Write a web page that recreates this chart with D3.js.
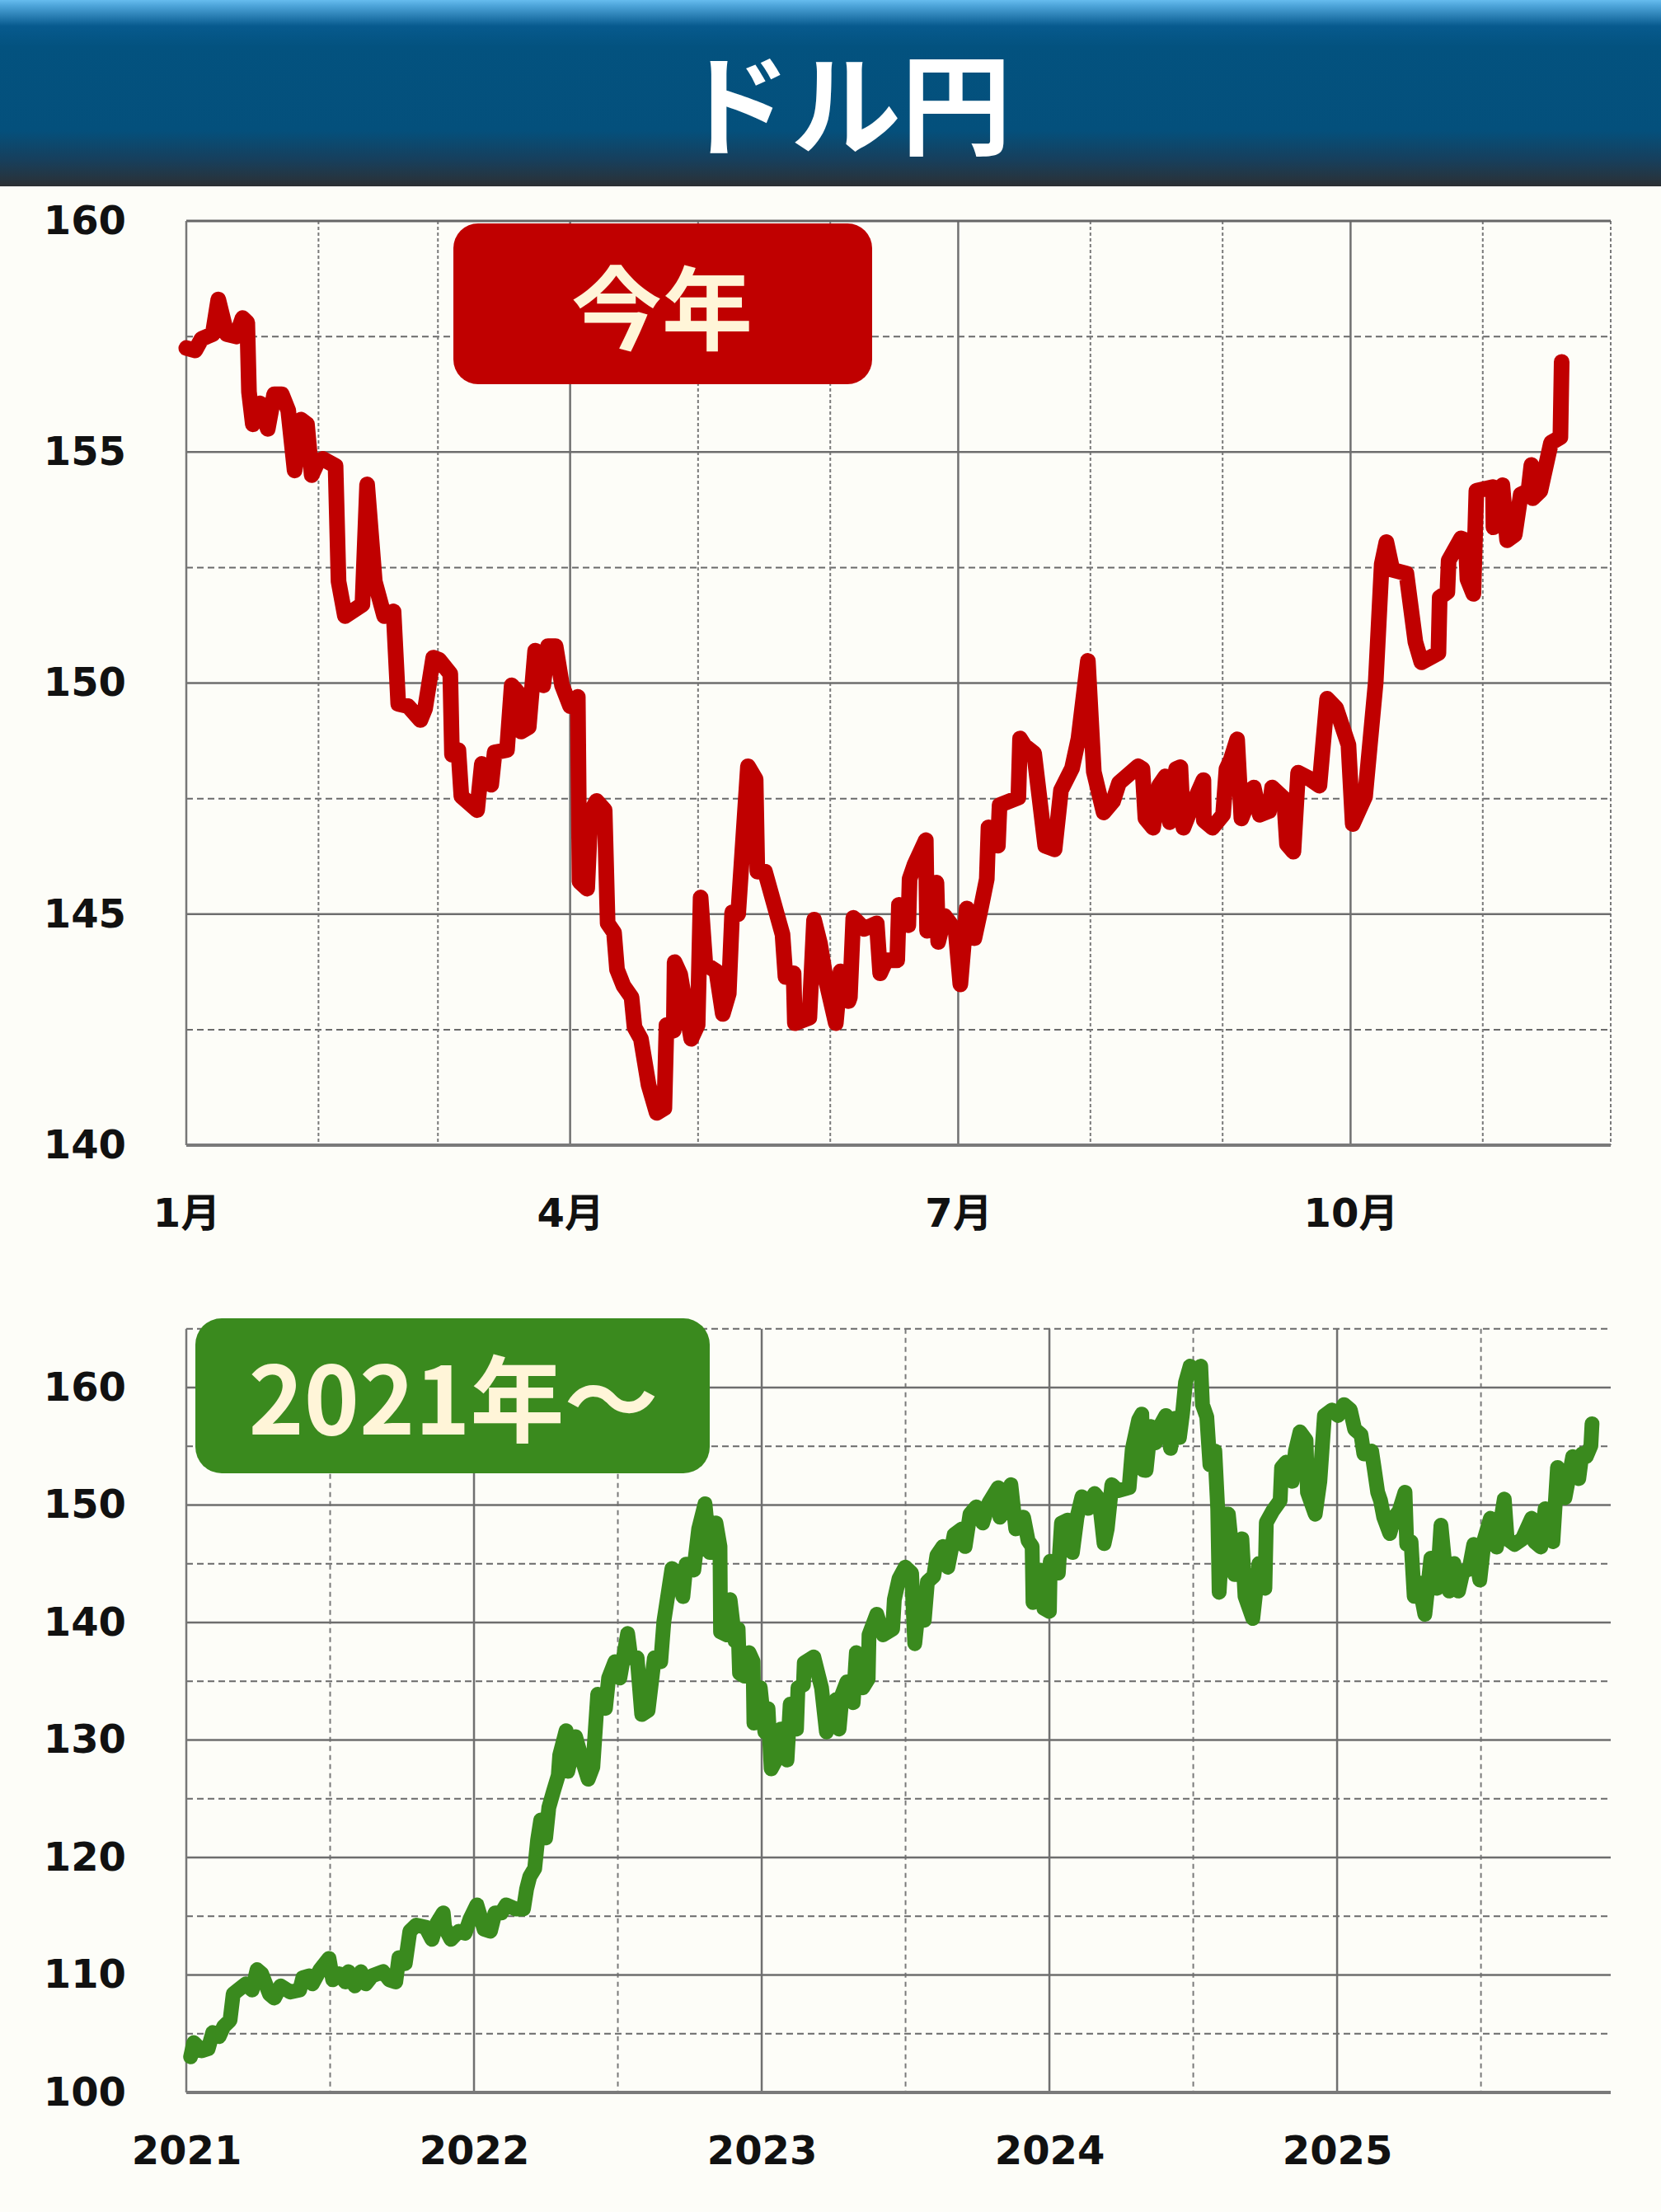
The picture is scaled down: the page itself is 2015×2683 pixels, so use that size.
<!DOCTYPE html>
<html>
<head>
<meta charset="utf-8">
<script src="https://cdn.jsdelivr.net/npm/d3@7"></script>
<style>
  html, body { margin: 0; padding: 0; background: #FDFDF8; }
  svg { display: block; }
</style>
</head>
<body>
<script>
// ---------------- DATA ----------------
const titleText = "ドル円";
const badgeTop = "今年";
const badgeBottom = "2021年～";

// Top chart: days since 2025-01-01, and USD/JPY rate
const ytdDay = [0,2.1,3.6,6.2,7.5,9.5,11.7,13.2,14.3,14.7,15.6,17.3,19.1,20.6,22.4,23.9,25.4,26.9,28.3,29.4,30.9,32.0,35.0,35.7,37.2,41.3,42.4,44.2,46.4,48.6,49.7,52.0,54.9,56.0,57.9,59.3,61.9,62.3,63.8,64.5,68.2,69.3,71.5,72.3,75.2,76.3,78.2,78.5,80.3,81.8,83.7,84.8,86.6,88.1,90.0,91.8,92.2,94.0,94.8,96.2,98.1,98.8,100.3,101.0,102.5,104.4,105.1,106.6,108.4,110.3,112.1,112.6,114.3,114.5,115.8,118.4,119.9,120.6,121.7,124.3,125.8,127.2,128.0,129.4,131.7,133.5,133.9,135.7,139.8,140.5,142.4,142.7,146.1,147.2,148.6,150.1,152.3,153.4,155.3,155.6,156.4,159.0,161.9,162.7,164.1,166.7,167.1,169.3,169.6,170.8,173.4,173.7,175.9,176.3,177.8,180.4,181.5,183.0,184.8,186.3,187.7,188.1,190.3,190.7,192.9,195.1,195.5,196.6,198.8,201.4,203.6,205.1,207.7,209.2,211.4,212.8,215.1,217.3,218.7,223.2,224.2,224.9,226.7,228.1,229.6,230.6,232.1,233.1,233.8,236.0,238.5,238.6,240.6,243.1,243.9,244.9,246.4,247.4,250.3,251.7,253.9,254.6,257.4,258.1,259.6,260.7,263.2,265.7,267.5,269.6,272.5,273.5,276.4,278.9,280.3,281.4,282.8,286.1,288.2,289.6,293.6,293.9,295.7,296.0,298.9,300.0,300.4,301.8,302.5,306.4,306.5,308.6,309.7,311.5,312.9,314.7,315.4,315.7,317.5,320.0,322.2,322.5];
const ytdRate = [157.25,157.2,157.45,157.55,158.3,157.55,157.5,157.9,157.8,156.3,155.6,156.05,155.5,156.25,156.25,155.9,154.6,155.7,155.6,154.5,154.8,154.85,154.7,152.2,151.45,151.7,154.3,152.2,151.45,151.55,149.55,149.5,149.2,149.45,150.55,150.5,150.2,148.45,148.55,147.55,147.25,148.25,147.8,148.5,148.55,149.95,149.75,148.95,149.05,150.7,149.95,150.8,150.8,149.95,149.5,149.7,145.7,145.55,147.2,147.45,147.25,144.8,144.6,143.8,143.45,143.2,142.55,142.3,141.3,140.7,140.8,142.6,142.48,143.96,143.7,142.3,142.6,145.36,143.92,143.76,142.84,143.28,145.04,145.0,148.2,147.92,145.92,145.92,144.56,143.64,143.72,142.64,142.76,144.88,144.36,143.52,142.64,143.76,143.12,143.2,144.92,144.68,144.8,143.72,144.0,144.0,145.2,144.76,145.76,146.08,146.6,144.64,145.68,144.4,144.96,144.64,143.48,145.12,144.48,145.12,145.76,146.88,146.48,147.36,147.44,147.52,148.8,148.64,148.48,146.48,146.4,147.68,148.16,148.8,150.48,148.08,147.2,147.44,147.84,148.2,148.14,147.07,146.87,147.78,147.98,146.99,148.14,148.18,146.87,147.38,147.9,147.03,146.87,147.15,148.14,148.34,148.78,147.07,147.74,147.15,147.23,147.74,147.5,146.51,146.35,148.06,147.94,147.78,149.66,149.46,148.66,146.95,147.54,150.02,152.57,153.05,152.45,152.37,150.89,150.45,150.65,151.85,151.97,152.65,153.13,153.09,152.25,151.93,154.16,154.24,153.37,154.28,153.09,153.21,154.08,154.16,154.72,154.0,154.16,155.2,155.32,156.95];

// Bottom chart: decimal year, and USD/JPY rate
const sinceYear = [2021.015,2021.026,2021.054,2021.076,2021.092,2021.114,2021.130,2021.152,2021.163,2021.180,2021.207,2021.229,2021.246,2021.262,2021.289,2021.306,2021.328,2021.361,2021.394,2021.405,2021.427,2021.438,2021.465,2021.496,2021.509,2021.531,2021.553,2021.564,2021.586,2021.607,2021.624,2021.646,2021.684,2021.706,2021.728,2021.739,2021.761,2021.777,2021.799,2021.832,2021.854,2021.871,2021.893,2021.898,2021.920,2021.947,2021.969,2021.986,2022.010,2022.035,2022.057,2022.073,2022.095,2022.112,2022.145,2022.172,2022.183,2022.194,2022.211,2022.221,2022.232,2022.249,2022.260,2022.276,2022.293,2022.298,2022.320,2022.326,2022.353,2022.375,2022.397,2022.413,2022.430,2022.457,2022.468,2022.490,2022.507,2022.534,2022.545,2022.567,2022.583,2022.605,2022.627,2022.649,2022.660,2022.688,2022.709,2022.726,2022.737,2022.764,2022.781,2022.803,2022.819,2022.841,2022.855,2022.857,2022.879,2022.890,2022.907,2022.918,2022.923,2022.940,2022.956,2022.970,2022.973,2022.995,2023.011,2023.022,2023.033,2023.055,2023.066,2023.088,2023.099,2023.121,2023.126,2023.145,2023.148,2023.181,2023.208,2023.225,2023.258,2023.269,2023.280,2023.296,2023.318,2023.329,2023.351,2023.370,2023.373,2023.400,2023.422,2023.455,2023.461,2023.477,2023.499,2023.521,2023.532,2023.548,2023.565,2023.576,2023.598,2023.609,2023.630,2023.647,2023.669,2023.696,2023.707,2023.724,2023.746,2023.768,2023.790,2023.822,2023.828,2023.850,2023.866,2023.883,2023.910,2023.926,2023.940,2023.943,2023.970,2023.981,2024.000,2024.003,2024.031,2024.042,2024.064,2024.080,2024.096,2024.113,2024.135,2024.157,2024.173,2024.190,2024.201,2024.217,2024.239,2024.277,2024.288,2024.310,2024.321,2024.326,2024.336,2024.352,2024.368,2024.384,2024.405,2024.421,2024.437,2024.452,2024.463,2024.473,2024.489,2024.511,2024.526,2024.532,2024.547,2024.558,2024.575,2024.585,2024.590,2024.606,2024.622,2024.643,2024.669,2024.680,2024.707,2024.728,2024.749,2024.754,2024.775,2024.802,2024.807,2024.823,2024.844,2024.855,2024.871,2024.892,2024.897,2024.924,2024.940,2024.956,2024.982,2025.003,2025.024,2025.046,2025.061,2025.083,2025.093,2025.120,2025.130,2025.141,2025.151,2025.162,2025.183,2025.199,2025.215,2025.236,2025.242,2025.257,2025.268,2025.284,2025.305,2025.326,2025.347,2025.361,2025.374,2025.390,2025.406,2025.422,2025.437,2025.459,2025.475,2025.496,2025.512,2025.533,2025.554,2025.581,2025.591,2025.617,2025.644,2025.676,2025.686,2025.708,2025.723,2025.750,2025.766,2025.792,2025.819,2025.840,2025.851,2025.866,2025.882,2025.886];
const sinceRate = [103.03,104.24,103.55,103.72,105.1,104.76,105.62,106.14,108.38,108.72,109.24,108.72,110.45,110.1,108.38,108.03,109.07,108.55,108.72,109.76,109.93,109.24,110.45,111.41,109.59,110.1,109.41,110.28,109.07,110.28,109.24,109.93,110.28,109.59,109.41,111.48,110.97,113.72,114.24,114.07,113.03,114.41,115.28,114.07,113.03,113.72,113.55,114.76,115.97,113.9,113.72,115.28,115.28,115.97,115.62,115.62,117.34,118.38,119.07,121.48,123.2,121.66,124.24,125.62,127.0,128.72,130.79,127.34,130.28,128.38,126.66,127.69,133.9,132.69,135.28,136.66,135.28,139.07,137.0,137.0,132.17,132.52,137.0,136.66,140.1,144.59,144.21,142.21,144.96,144.46,147.97,150.1,145.96,148.47,146.47,139.2,138.95,141.95,138.45,139.45,135.69,135.44,137.44,136.69,131.43,134.44,130.68,132.68,127.54,128.55,130.93,128.3,133.06,130.93,134.44,134.69,136.57,137.07,134.44,130.68,133.43,130.93,133.93,134.94,133.18,137.44,134.44,135.19,138.95,140.7,138.95,139.45,141.95,143.71,144.71,144.21,138.2,141.95,140.2,143.46,143.96,145.71,146.47,144.71,147.47,147.97,146.47,149.22,149.85,148.47,150.2,151.48,148.97,149.72,151.73,147.97,148.97,146.97,146.47,141.7,144.46,141.2,140.95,145.21,144.21,148.47,148.72,145.96,148.97,150.7,149.72,150.98,150.48,146.72,147.97,151.73,151.23,151.48,154.74,157.24,157.74,152.98,152.95,156.69,155.29,156.69,157.62,154.82,157.39,155.75,157.85,160.42,161.82,161.35,161.82,158.55,157.5,153.42,154.59,149.69,142.57,149.22,149.22,144.08,147.12,142.22,140.35,145.02,142.92,148.52,149.45,150.38,153.19,153.65,152.02,154.59,156.22,155.52,151.09,149.22,152.02,157.62,158.09,157.62,158.55,158.09,156.45,155.99,154.35,154.59,152.95,151.09,150.38,148.98,147.58,148.98,149.45,151.09,146.65,146.88,142.22,143.38,140.7,145.48,142.92,148.28,145.02,142.68,145.02,142.68,144.32,144.55,146.65,143.62,147.12,148.87,146.42,150.5,147.12,146.65,147.12,148.87,146.88,146.42,149.69,146.88,153.19,150.62,154.12,152.25,154.35,154.12,155.05,156.92];

// Tick labels
const topYTicks = [140, 145, 150, 155, 160];
const topMonthTicks = ["2025-01-01", "2025-04-01", "2025-07-01", "2025-10-01"];
const topMonthLabels = ["1月", "4月", "7月", "10月"];
const bottomYTicks = [100, 110, 120, 130, 140, 150, 160];
const bottomYearTicks = [2021, 2022, 2023, 2024, 2025];
const bottomYearLabels = ["2021", "2022", "2023", "2024", "2025"];

// ---------------- DRAW ----------------
const W = 2015, H = 2683;
const svg = d3.select("body").append("svg").attr("width", W).attr("height", H);
svg.append("rect").attr("width", W).attr("height", H).attr("fill", "#FDFDF8");

const defs = svg.append("defs");
const hg = defs.append("linearGradient").attr("id", "hdr").attr("x1", 0).attr("y1", 0).attr("x2", 0).attr("y2", 1);
[[0, "#66BCEE"], [0.03, "#4EA5DA"], [0.14, "#075A8E"], [0.25, "#03527F"], [0.7, "#04507C"], [0.86, "#173F5C"], [1, "#2C3034"]]
  .forEach(([o, c]) => hg.append("stop").attr("offset", o).attr("stop-color", c));

// header
svg.append("rect").attr("x", 0).attr("y", 0).attr("width", W).attr("height", 226).attr("fill", "url(#hdr)");
svg.append("text").attr("x", 1026).attr("y", 120).attr("text-anchor", "middle").attr("dominant-baseline", "central")
  .attr("font-family", "'Noto Sans CJK JP', sans-serif").attr("font-weight", 700).attr("font-size", 134)
  .attr("fill", "#FFFFFF").text(titleText);

const labelFont = "'DejaVu Sans', 'Noto Sans CJK JP', sans-serif";
const L = 226, R = 1954;

// ----- Top chart -----
const tTop = 268, tBot = 1389;
const parseUTC = d3.utcParse("%Y-%m-%d");
const xT = d3.scaleUtc().domain([parseUTC("2025-01-01"), parseUTC("2025-12-01")]).range([L, R]);
const yT = d3.scaleLinear().domain([140, 160]).range([tBot, tTop]);
const gT = svg.append("g");

d3.range(142.5, 160, 5).forEach(v => {
  gT.append("line").attr("x1", L).attr("x2", R).attr("y1", yT(v)).attr("y2", yT(v))
    .attr("stroke", "#6a6a6a").attr("stroke-width", 2).attr("stroke-dasharray", "8,5");
});
d3.utcMonth.range(parseUTC("2025-02-01"), parseUTC("2025-12-02")).forEach(d => {
  const m = d.getUTCMonth();
  const solid = (m % 3 === 0);
  gT.append("line").attr("x1", xT(d)).attr("x2", xT(d)).attr("y1", tTop).attr("y2", tBot)
    .attr("stroke", solid ? "#707070" : "#7a7a7a").attr("stroke-width", solid ? 2.5 : 2)
    .attr("stroke-dasharray", solid ? null : "4,3");
});
[145, 150, 155].forEach(v => {
  gT.append("line").attr("x1", L).attr("x2", R).attr("y1", yT(v)).attr("y2", yT(v))
    .attr("stroke", "#6e6e6e").attr("stroke-width", 2.5);
});
gT.append("line").attr("x1", L).attr("x2", R).attr("y1", tTop).attr("y2", tTop).attr("stroke", "#666").attr("stroke-width", 3);
gT.append("line").attr("x1", L).attr("x2", L).attr("y1", tTop).attr("y2", tBot).attr("stroke", "#777").attr("stroke-width", 2.5);
gT.append("line").attr("x1", L).attr("x2", R).attr("y1", tBot).attr("y2", tBot).attr("stroke", "#7a7a7a").attr("stroke-width", 4);

const axT = d3.axisLeft(yT).tickValues(topYTicks).tickSize(0).tickPadding(L - 153).tickFormat(d3.format("d"));
const axTg = svg.append("g").attr("transform", `translate(${L},0)`).call(axT);
axTg.select(".domain").remove();
axTg.selectAll("text").attr("font-family", labelFont).attr("font-weight", 700).attr("font-size", 48).attr("fill", "#111");

const axTx = d3.axisBottom(xT).tickValues(topMonthTicks.map(parseUTC)).tickSize(0).tickPadding(0)
  .tickFormat((d, i) => topMonthLabels[i]);
const axTxg = svg.append("g").attr("transform", `translate(0,${tBot})`).call(axTx);
axTxg.select(".domain").remove();
axTxg.selectAll("text").attr("y", 82).attr("dy", "0.36em").attr("font-family", labelFont).attr("font-weight", 700).attr("font-size", 48).attr("fill", "#111");

// badge 今年
svg.append("rect").attr("x", 550).attr("y", 271).attr("width", 508).attr("height", 195).attr("rx", 30)
  .attr("fill", "#C00000");
svg.append("text").attr("x", 803).attr("y", 368).attr("text-anchor", "middle").attr("dominant-baseline", "central")
  .attr("font-family", "'Noto Sans CJK JP', sans-serif").attr("font-weight", 700).attr("font-size", 110)
  .attr("fill", "#FFF5D8").text(badgeTop);

// top line
const ms = 864e5;
const base = parseUTC("2025-01-01").getTime();
const topPts = ytdDay.map((d, i) => [new Date(base + d * ms), ytdRate[i]]);
svg.append("path").datum(topPts)
  .attr("d", d3.line().x(d => xT(d[0])).y(d => yT(d[1])))
  .attr("fill", "none").attr("stroke", "#C00000").attr("stroke-width", 19)
  .attr("stroke-linejoin", "round").attr("stroke-linecap", "round");

// ----- Bottom chart -----
const bBot = 2538;
const yB = d3.scaleLinear().domain([100, 160]).range([bBot, 1683]);
const bTop = yB(165);
const xB = d3.scaleLinear().domain([2021, 2025.951]).range([L, R]);
const gB = svg.append("g");

d3.range(105, 170, 10).forEach(v => {
  gB.append("line").attr("x1", L).attr("x2", R).attr("y1", yB(v)).attr("y2", yB(v))
    .attr("stroke", "#6a6a6a").attr("stroke-width", 2).attr("stroke-dasharray", "8,5");
});
d3.range(2021.5, 2025.9, 1).forEach(t => {
  gB.append("line").attr("x1", xB(t)).attr("x2", xB(t)).attr("y1", bTop).attr("y2", bBot)
    .attr("stroke", "#7a7a7a").attr("stroke-width", 2).attr("stroke-dasharray", "6,5");
});
[2022, 2023, 2024, 2025].forEach(t => {
  gB.append("line").attr("x1", xB(t)).attr("x2", xB(t)).attr("y1", bTop).attr("y2", bBot)
    .attr("stroke", "#707070").attr("stroke-width", 2.5);
});
d3.range(110, 161, 10).forEach(v => {
  gB.append("line").attr("x1", L).attr("x2", R).attr("y1", yB(v)).attr("y2", yB(v))
    .attr("stroke", "#6e6e6e").attr("stroke-width", 2.5);
});
gB.append("line").attr("x1", L).attr("x2", L).attr("y1", bTop).attr("y2", bBot).attr("stroke", "#777").attr("stroke-width", 2.5);
gB.append("line").attr("x1", L).attr("x2", R).attr("y1", bBot).attr("y2", bBot).attr("stroke", "#7a7a7a").attr("stroke-width", 4);

const axB = d3.axisLeft(yB).tickValues(bottomYTicks).tickSize(0).tickPadding(L - 153).tickFormat(d3.format("d"));
const axBg = svg.append("g").attr("transform", `translate(${L},0)`).call(axB);
axBg.select(".domain").remove();
axBg.selectAll("text").attr("font-family", labelFont).attr("font-weight", 700).attr("font-size", 48).attr("fill", "#111");

const axBx = d3.axisBottom(xB).tickValues(bottomYearTicks).tickSize(0).tickPadding(0)
  .tickFormat((d, i) => bottomYearLabels[i]);
const axBxg = svg.append("g").attr("transform", `translate(0,${bBot})`).call(axBx);
axBxg.select(".domain").remove();
axBxg.selectAll("text").attr("y", 70).attr("dy", "0.36em").attr("font-family", labelFont).attr("font-weight", 700).attr("font-size", 48).attr("fill", "#111");

// badge 2021年～
svg.append("rect").attr("x", 237).attr("y", 1599).attr("width", 624).attr("height", 188).attr("rx", 32)
  .attr("fill", "#3A8A1E");
svg.append("text").attr("x", 550).attr("y", 1690).attr("text-anchor", "middle").attr("dominant-baseline", "central")
  .attr("font-family", "'Noto Sans CJK JP', sans-serif").attr("font-weight", 700).attr("font-size", 114)
  .attr("fill", "#FFF5D8").text(badgeBottom);

// bottom line
svg.append("path").datum(sinceYear.map((t, i) => [t, sinceRate[i]]))
  .attr("d", d3.line().x(d => xB(d[0])).y(d => yB(d[1])))
  .attr("fill", "none").attr("stroke", "#3A8A1E").attr("stroke-width", 18)
  .attr("stroke-linejoin", "round").attr("stroke-linecap", "round");
</script>
</body>
</html>
